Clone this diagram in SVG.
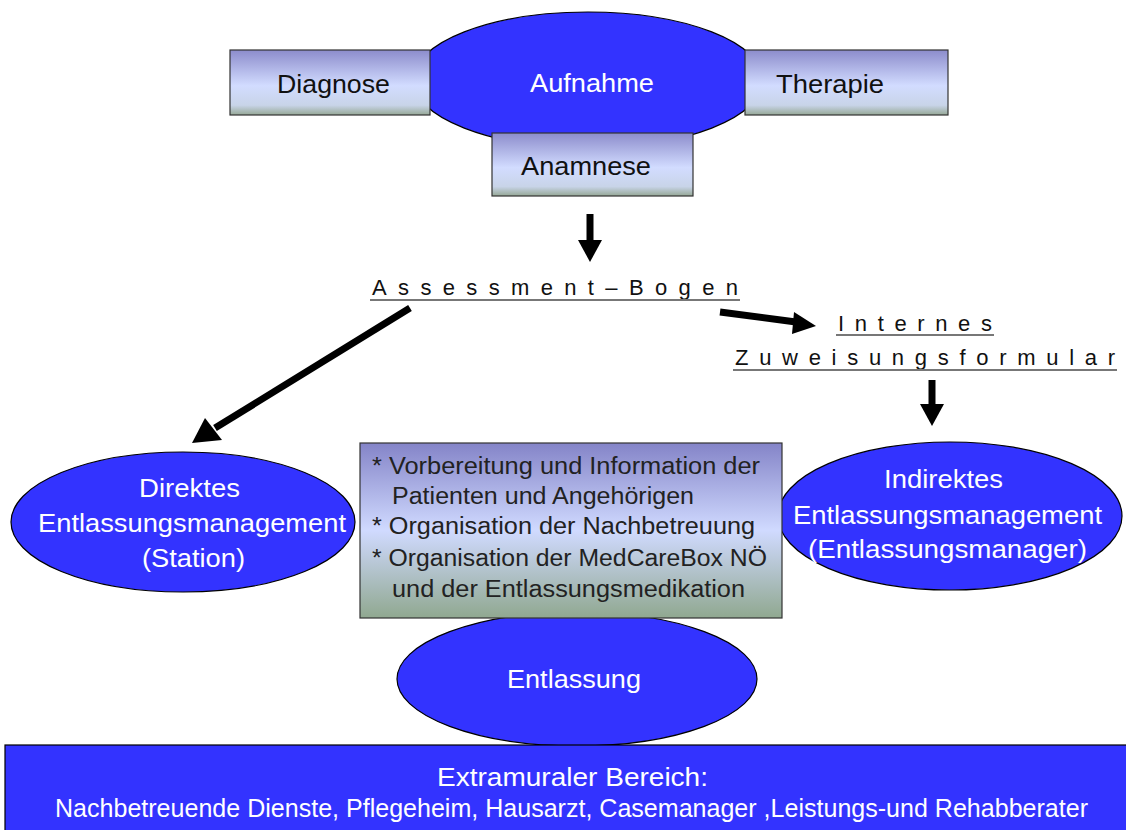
<svg xmlns="http://www.w3.org/2000/svg" width="1126" height="830" viewBox="0 0 1126 830">
<style>
.ell{fill:#3333FF;stroke:#000;stroke-width:1.2}
.rb{stroke:#333;stroke-width:1.2}
.wt{font-family:"Liberation Sans",Arial,sans-serif;font-size:25px;fill:#fff}
.bt{font-family:"Liberation Sans",Arial,sans-serif;font-size:25px;fill:#111}
.lt{font-family:"Liberation Sans",Arial,sans-serif;font-size:23px;fill:#222}
.sp{font-family:"Liberation Sans",Arial,sans-serif;font-size:22px;fill:#111}
.ul{stroke:#777;stroke-width:2}
.arr{stroke:#000;stroke-width:7;fill:none}
.ah{fill:#000}
</style>
<defs>
<linearGradient id="g1" x1="0" y1="0" x2="0" y2="1">
<stop offset="0" stop-color="#8C8CCC"/>
<stop offset="0.55" stop-color="#D2DCFF"/>
<stop offset="0.85" stop-color="#C8D4E8"/>
<stop offset="1" stop-color="#96A896"/>
</linearGradient>
<linearGradient id="g2" x1="0" y1="0" x2="0" y2="1">
<stop offset="0" stop-color="#8484C8"/>
<stop offset="0.5" stop-color="#D0DAFF"/>
<stop offset="1" stop-color="#90A890"/>
</linearGradient>
</defs>

<g id="aufnahme">
<ellipse class="ell" cx="588" cy="80" rx="175" ry="68"/>
<text class="wt" x="530" y="92" textLength="124" lengthAdjust="spacingAndGlyphs">Aufnahme</text>
</g>
<g id="diagnose">
<rect class="rb" x="230" y="50" width="200" height="65" fill="url(#g1)"/>
<text class="bt" x="277" y="93" textLength="113" lengthAdjust="spacingAndGlyphs">Diagnose</text>
</g>
<g id="therapie">
<rect class="rb" x="745" y="50" width="203" height="65" fill="url(#g1)"/>
<text class="bt" x="776" y="93" textLength="108" lengthAdjust="spacingAndGlyphs">Therapie</text>
</g>
<g id="anamnese">
<rect class="rb" x="492" y="133" width="201" height="63" fill="url(#g1)"/>
<text class="bt" x="521" y="175" textLength="130" lengthAdjust="spacingAndGlyphs">Anamnese</text>
</g>

<g id="assessment">
<text class="sp" x="372" y="295" textLength="366" lengthAdjust="spacing">Assessment–Bogen</text>
<line class="ul" x1="370" y1="300" x2="740" y2="300"/>
</g>
<g id="internes">
<text class="sp" x="838" y="331" textLength="154" lengthAdjust="spacing">Internes</text>
<line class="ul" x1="836" y1="335" x2="994" y2="335"/>
<text class="sp" x="735" y="365" textLength="380" lengthAdjust="spacing">Zuweisungsformular</text>
<line class="ul" x1="733" y1="370" x2="1117" y2="370"/>
</g>

<g id="direktes">
<ellipse class="ell" cx="183" cy="522" rx="172" ry="70"/>
<text class="wt" x="139" y="497" textLength="101" lengthAdjust="spacingAndGlyphs">Direktes</text>
<text class="wt" x="38" y="532" textLength="308" lengthAdjust="spacingAndGlyphs">Entlassungsmanagement</text>
<text class="wt" x="142" y="567" textLength="103" lengthAdjust="spacingAndGlyphs">(Station)</text>
</g>
<g id="indirektes">
<ellipse class="ell" cx="950" cy="516" rx="172" ry="74"/>
<text class="wt" x="884" y="488" textLength="119" lengthAdjust="spacingAndGlyphs">Indirektes</text>
<text class="wt" x="793" y="524" textLength="309" lengthAdjust="spacingAndGlyphs">Entlassungsmanagement</text>
<text class="wt" x="808" y="558" textLength="279" lengthAdjust="spacingAndGlyphs">(Entlassungsmanager)</text>
</g>
<g id="entlassung">
<ellipse class="ell" cx="577" cy="679" rx="180" ry="67"/>
<text class="wt" x="507" y="688" textLength="134" lengthAdjust="spacingAndGlyphs">Entlassung</text>
</g>
<g id="aufgaben">
<rect class="rb" x="360" y="443" width="422" height="175" fill="url(#g2)"/>
<text class="lt" x="372" y="474" textLength="388" lengthAdjust="spacingAndGlyphs">* Vorbereitung und Information der</text>
<text class="lt" x="392" y="504" textLength="302" lengthAdjust="spacingAndGlyphs">Patienten und Angehörigen</text>
<text class="lt" x="372" y="534" textLength="383" lengthAdjust="spacingAndGlyphs">* Organisation der Nachbetreuung</text>
<text class="lt" x="372" y="566" textLength="395" lengthAdjust="spacingAndGlyphs">* Organisation der MedCareBox NÖ</text>
<text class="lt" x="392" y="597" textLength="353" lengthAdjust="spacingAndGlyphs">und der Entlassungsmedikation</text>
</g>
<g id="extramural">
<rect x="5" y="745" width="1125" height="90" fill="#3333FF" stroke="#000" stroke-width="1.2"/>
<text x="437" y="786" font-family="'Liberation Sans',Arial,sans-serif" font-size="26" fill="#fff" textLength="271" lengthAdjust="spacingAndGlyphs">Extramuraler Bereich:</text>
<text x="55" y="817" font-family="'Liberation Sans',Arial,sans-serif" font-size="26" fill="#fff" textLength="1033" lengthAdjust="spacingAndGlyphs">Nachbetreuende Dienste, Pflegeheim, Hausarzt, Casemanager ,Leistungs-und Rehabberater</text>
</g>

<g id="connectors">
<line class="arr" x1="590" y1="214" x2="590" y2="242"/>
<polygon class="ah" points="578,240 602,240 590,262"/>
<line class="arr" x1="410" y1="308" x2="215" y2="428"/>
<polygon class="ah" points="205,418 222,440 192,443"/>
<line class="arr" x1="720" y1="312" x2="796" y2="322"/>
<polygon class="ah" points="794,312 792,334 816,326"/>
<line class="arr" x1="932" y1="380" x2="932" y2="406"/>
<polygon class="ah" points="920,404 944,404 932,426"/>
</g>
</svg>
